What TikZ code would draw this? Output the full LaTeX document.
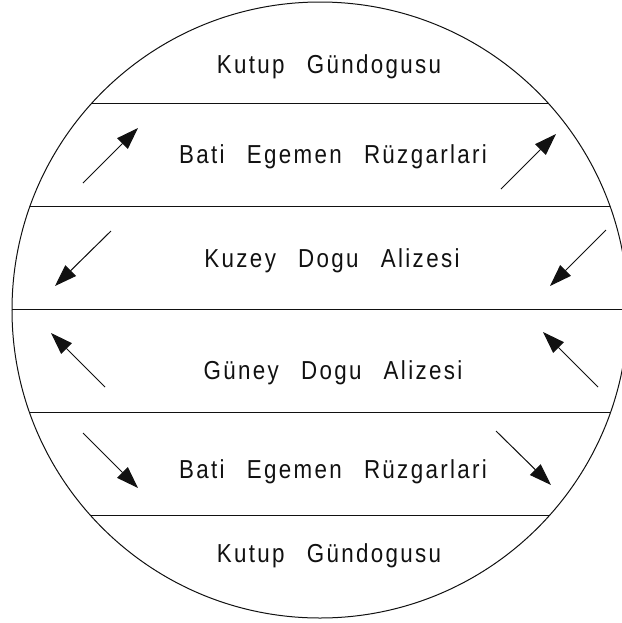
\documentclass[tikz,border=0pt]{standalone}
\usepackage{fontspec}
\setmainfont[LetterSpace=9, FakeStretch=0.86, WordSpace=2.6]{Liberation Sans}
\usetikzlibrary{arrows.meta}
\definecolor{wndink}{HTML}{111111}
\tikzset{
  wnd/.style={x=0.5pt, y=-0.5pt, line width=0.5pt, draw=wndink},
  wndlbl/.style={font=\fontsize{13}{15}\selectfont, text=wndink, inner sep=0pt, anchor=base},
  wndarr/.style={-{Triangle[length=11pt,width=7.5pt]}, line width=0.5pt, draw=wndink, fill=wndink},
}

\begin{document}
\begin{tikzpicture}[wnd]
  \useasboundingbox (0,0) rectangle (622,623);
  \coordinate (globe) at (320,310);
  \draw[wndink] (globe) circle[radius=308];
  % belt borders
  \begin{scope}
    \clip (globe) circle[radius=308];
    \foreach \y in {103,206,309,412,515}
      \draw[wndink] (0,\y) -- (640,\y);
  \end{scope}
  % belt names
  \node[wndlbl] (polarN) at (329,73) {Kutup Gündogusu};
  \node[wndlbl] (westN) at (333,163) {Bati Egemen Rüzgarlari};
  \node[wndlbl] (tradeN) at (332,267) {Kuzey Dogu Alizesi};
  \node[wndlbl] (tradeS) at (333,379) {Güney Dogu Alizesi};
  \node[wndlbl] (westS) at (333,478) {Bati Egemen Rüzgarlari};
  \node[wndlbl] (polarS) at (329,562) {Kutup Gündogusu};
  % wind arrows
  \coordinate (wNla) at (83,183);  \coordinate (wNlb) at (138,128);
  \coordinate (wNra) at (501,189); \coordinate (wNrb) at (556,134);
  \coordinate (tNla) at (111,231); \coordinate (tNlb) at (55,286);
  \coordinate (tNra) at (606,230); \coordinate (tNrb) at (550,286);
  \coordinate (tSla) at (105,387); \coordinate (tSlb) at (51,333);
  \coordinate (tSra) at (598,387); \coordinate (tSrb) at (543,332);
  \coordinate (wSla) at (83,433);  \coordinate (wSlb) at (138,488);
  \coordinate (wSra) at (496,431); \coordinate (wSrb) at (551,485);
  \draw[wndarr] (wNla) -- (wNlb);
  \draw[wndarr] (wNra) -- (wNrb);
  \draw[wndarr] (tNla) -- (tNlb);
  \draw[wndarr] (tNra) -- (tNrb);
  \draw[wndarr] (tSla) -- (tSlb);
  \draw[wndarr] (tSra) -- (tSrb);
  \draw[wndarr] (wSla) -- (wSlb);
  \draw[wndarr] (wSra) -- (wSrb);
\end{tikzpicture}
\end{document}
